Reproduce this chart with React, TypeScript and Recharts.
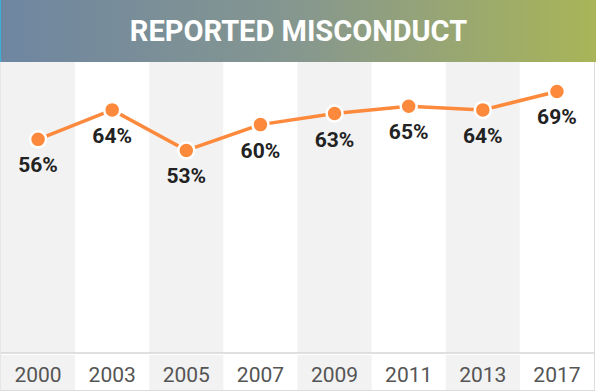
import React from "react";
import { ComposedChart, Bar, Line, XAxis, YAxis, LabelList } from "recharts";

const years = ["2000", "2003", "2005", "2007", "2009", "2011", "2013", "2017"];
const misconduct = [56, 64, 53, 60, 63, 65, 64, 69];
const yMin = -2;
const yMax = 77;

const data = years.map((year, i) => ({
  year,
  value: misconduct[i],
  stripe: i % 2 === 0 ? [yMin, yMax] : null,
}));

const ORANGE = "#fd8a3c";
const STRIPE = "#f2f2f2";

// tick y sits a few px under the axis line, so the stripe starts slightly above it
function YearTick(props: any) {
  const { x, y, payload } = props;
  const band = (payload?.offset ?? 37) * 2;
  return (
    <g>
      {payload.index % 2 === 0 && (
        <rect x={x - band / 2} y={y - 6} width={band} height={36} fill={STRIPE} />
      )}
      <text
        x={x}
        y={y + 14}
        textAnchor="middle"
        dominantBaseline="central"
        fontFamily="Roboto, sans-serif"
        fontSize={21}
        fill="#555"
      >
        {payload.value}
      </text>
    </g>
  );
}

function PctLabel(props: any) {
  const { x, y, value } = props;
  return (
    <text
      x={x}
      y={y + 26}
      textAnchor="middle"
      dominantBaseline="central"
      fontFamily="Roboto, sans-serif"
      fontWeight={700}
      fontSize={21}
      fill="#222"
    >
      {value}%
    </text>
  );
}

export default function App() {
  return (
    <div
      style={{
        position: "absolute",
        left: 0,
        top: 0,
        width: 596,
        height: 392,
        background: "#fff",
      }}
    >
      <div
        style={{
          height: 62,
          width: 595,
          background: "linear-gradient(to right, #6e86a1 0%, #86978f 50%, #a9b557 100%)",
          borderLeft: "1px solid #3ab0d8",
          display: "flex",
          alignItems: "center",
          justifyContent: "center",
          color: "#fff",
          fontFamily: "Roboto, sans-serif",
          fontWeight: 700,
          fontSize: 29,
        }}
      >
        REPORTED MISCONDUCT
      </div>
      <div
        style={{
          width: 595,
          height: 329,
          borderRight: "1px solid #dcdcdc",
          borderBottom: "1px solid #dcdcdc",
          borderLeft: "1px solid #e6e6e6",
          boxSizing: "border-box",
        }}
      >
        <ComposedChart
          width={593}
          height={328}
          data={data}
          margin={{ top: 0, right: 0, bottom: 0, left: 0 }}
          barCategoryGap={0}
          barGap={0}
        >
          <XAxis
            dataKey="year"
            height={37}
            tickLine={false}
            axisLine={{ stroke: "#d6d6d6", strokeWidth: 1.5 }}
            tick={<YearTick />}
            interval={0}
          />
          <YAxis hide domain={[yMin, yMax]} />
          <Bar dataKey="stripe" fill={STRIPE} isAnimationActive={false} />
          <Line
            type="linear"
            dataKey="value"
            stroke={ORANGE}
            strokeWidth={3.5}
            dot={{ r: 8, fill: ORANGE, stroke: "#fff", strokeWidth: 2.5 }}
            activeDot={false}
            isAnimationActive={false}
          >
            <LabelList dataKey="value" content={<PctLabel />} />
          </Line>
        </ComposedChart>
      </div>
    </div>
  );
}
